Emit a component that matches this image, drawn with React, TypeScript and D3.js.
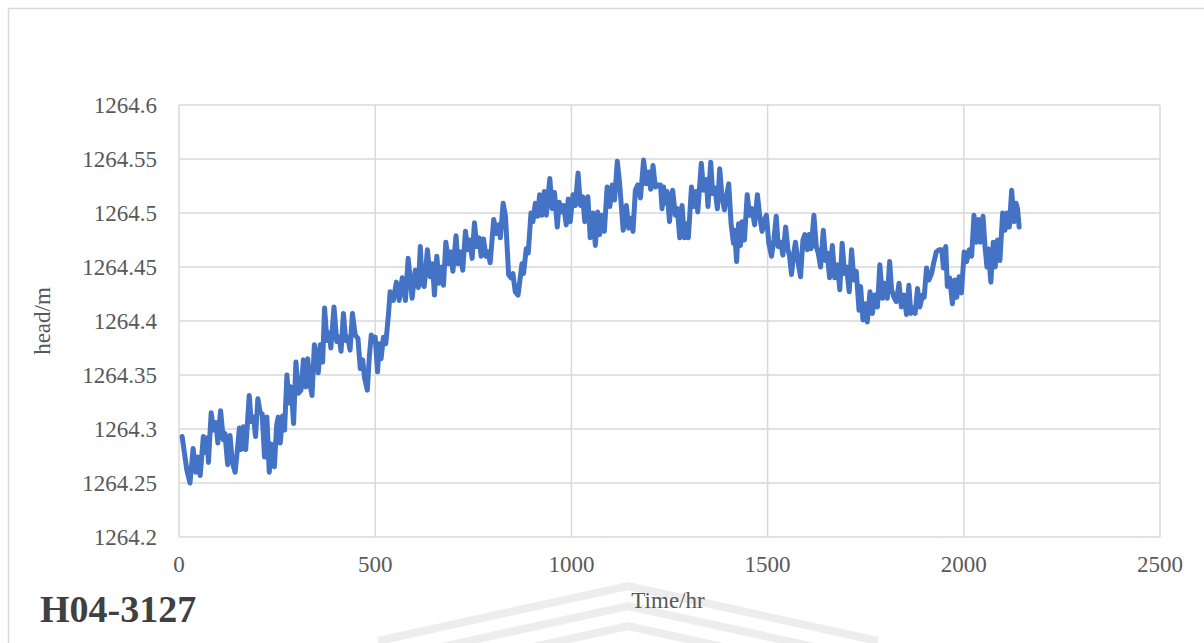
import React from "react";
import * as d3 from "d3";

const hours: number[] = [
  8, 20, 28, 36, 43, 48, 54, 62, 68, 72, 75, 82, 88, 94, 99, 106, 113, 117, 124, 130,
  136, 143, 147, 154, 158, 164, 170, 179, 184, 190, 195, 201, 207, 212, 218, 224, 230, 236, 243, 249,
  253, 258, 264, 269, 275, 281, 286, 292, 298, 304, 311, 317, 323, 328, 334, 339, 345, 351, 355, 360,
  366, 371, 377, 383, 387, 395, 402, 408, 413, 419, 425, 430, 436, 442, 449, 456, 462, 468, 473, 480,
  485, 490, 496, 500, 506, 510, 515, 521, 527, 534, 538, 546, 554, 561, 569, 577, 584, 594, 602, 610,
  615, 619, 625, 633, 640, 646, 651, 657, 663, 670, 674, 680, 687, 693, 698, 706, 711, 717, 723, 730,
  736, 741, 747, 753, 759, 765, 770, 776, 782, 787, 793, 802, 809, 815, 819, 826, 832, 840, 846, 851,
  857, 864, 870, 874, 878, 885, 890, 897, 902, 908, 914, 919, 925, 931, 936, 945, 951, 957, 964, 969,
  976, 980, 987, 992, 997, 1004, 1010, 1017, 1023, 1029, 1034, 1042, 1048, 1055, 1061, 1067, 1072, 1078, 1084, 1091,
  1098, 1104, 1110, 1117, 1123, 1132, 1140, 1146, 1152, 1157, 1163, 1169, 1176, 1184, 1191, 1197, 1202, 1208, 1214, 1220,
  1227, 1231, 1235, 1240, 1244, 1250, 1255, 1258, 1265, 1270, 1276, 1282, 1288, 1293, 1298, 1306, 1312, 1318, 1322, 1331,
  1337, 1344, 1348, 1355, 1360, 1366, 1372, 1378, 1384, 1390, 1395, 1401, 1407, 1413, 1416, 1421, 1426, 1431, 1435, 1441,
  1448, 1454, 1460, 1467, 1474, 1480, 1486, 1492, 1497, 1503, 1510, 1516, 1522, 1527, 1533, 1539, 1546, 1552, 1556, 1561,
  1566, 1571, 1577, 1584, 1590, 1595, 1601, 1606, 1611, 1618, 1624, 1629, 1635, 1642, 1648, 1652, 1658, 1665, 1671, 1678,
  1684, 1690, 1696, 1701, 1708, 1714, 1720, 1726, 1733, 1737, 1743, 1749, 1754, 1761, 1767, 1773, 1780, 1786, 1793, 1798,
  1805, 1811, 1816, 1822, 1828, 1835, 1841, 1848, 1854, 1860, 1865, 1871, 1876, 1882, 1888, 1895, 1899, 1905, 1911, 1918,
  1924, 1930, 1937, 1944, 1948, 1954, 1958, 1964, 1971, 1977, 1982, 1988, 1994, 2001, 2007, 2014, 2020, 2026, 2032, 2038,
  2042, 2049, 2054, 2059, 2062, 2069, 2075, 2080, 2086, 2092, 2099, 2105, 2110, 2116, 2122, 2128, 2133, 2137, 2141,
];

const head: number[] = [
  1264.293, 1264.262, 1264.250, 1264.282, 1264.260, 1264.274, 1264.257, 1264.293, 1264.278, 1264.292, 1264.269, 1264.315, 1264.299, 1264.306, 1264.287, 1264.317, 1264.290, 1264.296, 1264.267, 1264.294,
  1264.269, 1264.260, 1264.274, 1264.301, 1264.281, 1264.302, 1264.281, 1264.331, 1264.307, 1264.311, 1264.293, 1264.328, 1264.315, 1264.314, 1264.274, 1264.311, 1264.260, 1264.286, 1264.265, 1264.304,
  1264.311, 1264.287, 1264.312, 1264.299, 1264.350, 1264.324, 1264.339, 1264.305, 1264.362, 1264.333, 1264.336, 1264.364, 1264.339, 1264.365, 1264.341, 1264.331, 1264.378, 1264.364, 1264.352, 1264.378,
  1264.362, 1264.412, 1264.382, 1264.389, 1264.375, 1264.413, 1264.381, 1264.385, 1264.372, 1264.407, 1264.382, 1264.385, 1264.373, 1264.407, 1264.387, 1264.384, 1264.356, 1264.364, 1264.347, 1264.336,
  1264.367, 1264.387, 1264.381, 1264.385, 1264.353, 1264.379, 1264.365, 1264.385, 1264.379, 1264.407, 1264.427, 1264.419, 1264.436, 1264.419, 1264.440, 1264.419, 1264.458, 1264.421, 1264.447, 1264.431,
  1264.469, 1264.435, 1264.432, 1264.466, 1264.441, 1264.453, 1264.424, 1264.460, 1264.435, 1264.450, 1264.433, 1264.473, 1264.453, 1264.464, 1264.446, 1264.479, 1264.453, 1264.464, 1264.447, 1264.483,
  1264.466, 1264.475, 1264.458, 1264.491, 1264.469, 1264.477, 1264.460, 1264.476, 1264.460, 1264.464, 1264.454, 1264.494, 1264.481, 1264.489, 1264.477, 1264.509, 1264.497, 1264.443, 1264.440, 1264.444,
  1264.427, 1264.424, 1264.441, 1264.453, 1264.444, 1264.467, 1264.463, 1264.500, 1264.492, 1264.509, 1264.497, 1264.517, 1264.498, 1264.520, 1264.498, 1264.532, 1264.504, 1264.519, 1264.487, 1264.510,
  1264.501, 1264.507, 1264.489, 1264.513, 1264.492, 1264.517, 1264.507, 1264.537, 1264.507, 1264.515, 1264.492, 1264.515, 1264.477, 1264.500, 1264.470, 1264.501, 1264.480, 1264.498, 1264.483, 1264.524,
  1264.506, 1264.526, 1264.512, 1264.548, 1264.527, 1264.484, 1264.507, 1264.486, 1264.495, 1264.483, 1264.521, 1264.526, 1264.514, 1264.549, 1264.527, 1264.538, 1264.522, 1264.544, 1264.524, 1264.526,
  1264.526, 1264.504, 1264.524, 1264.509, 1264.520, 1264.492, 1264.512, 1264.521, 1264.498, 1264.504, 1264.477, 1264.507, 1264.477, 1264.490, 1264.477, 1264.524, 1264.506, 1264.520, 1264.501, 1264.546,
  1264.521, 1264.531, 1264.506, 1264.547, 1264.518, 1264.523, 1264.504, 1264.541, 1264.514, 1264.503, 1264.515, 1264.527, 1264.490, 1264.472, 1264.484, 1264.455, 1264.490, 1264.470, 1264.492, 1264.475,
  1264.517, 1264.498, 1264.504, 1264.489, 1264.517, 1264.497, 1264.483, 1264.494, 1264.498, 1264.472, 1264.460, 1264.475, 1264.497, 1264.469, 1264.473, 1264.461, 1264.487, 1264.466, 1264.460, 1264.443,
  1264.461, 1264.473, 1264.456, 1264.441, 1264.475, 1264.480, 1264.466, 1264.480, 1264.467, 1264.498, 1264.469, 1264.463, 1264.450, 1264.484, 1264.456, 1264.463, 1264.440, 1264.470, 1264.440, 1264.452,
  1264.429, 1264.472, 1264.444, 1264.450, 1264.427, 1264.466, 1264.438, 1264.446, 1264.410, 1264.432, 1264.401, 1264.416, 1264.399, 1264.427, 1264.407, 1264.424, 1264.413, 1264.452, 1264.421, 1264.435,
  1264.421, 1264.455, 1264.429, 1264.422, 1264.418, 1264.435, 1264.413, 1264.424, 1264.406, 1264.433, 1264.407, 1264.412, 1264.407, 1264.430, 1264.413, 1264.424, 1264.422, 1264.449, 1264.438, 1264.444,
  1264.455, 1264.464, 1264.466, 1264.466, 1264.449, 1264.469, 1264.432, 1264.440, 1264.416, 1264.438, 1264.422, 1264.441, 1264.426, 1264.464, 1264.455, 1264.466, 1264.460, 1264.498, 1264.473, 1264.494,
  1264.473, 1264.497, 1264.469, 1264.450, 1264.467, 1264.436, 1264.473, 1264.450, 1264.475, 1264.456, 1264.500, 1264.484, 1264.500, 1264.487, 1264.521, 1264.492, 1264.509, 1264.504, 1264.487,
];

const xTicks: number[] = [0, 500, 1000, 1500, 2000, 2500];
const yTicks: number[] = [1264.2, 1264.25, 1264.3, 1264.35, 1264.4, 1264.45, 1264.5, 1264.55, 1264.6];
const yTickLabels: string[] = ["1264.2", "1264.25", "1264.3", "1264.35", "1264.4", "1264.45", "1264.5", "1264.55", "1264.6"];
const chartTitle = "H04-3127";
const xTitle = "Time/hr";
const yTitle = "head/m";

const W = 1204;
const H = 643;
const plot = { left: 179, right: 1160, top: 105, bottom: 537 };
const serif = "'Liberation Serif', 'Times New Roman', 'DejaVu Serif', serif";

export default function App() {
  const x = d3.scaleLinear().domain([0, 2500]).range([plot.left, plot.right]);
  const y = d3.scaleLinear().domain([1264.2, 1264.6]).range([plot.bottom, plot.top]);
  const pts: [number, number][] = hours.map((h, i) => [h, head[i]]);
  const line = d3
    .line<[number, number]>()
    .x((d) => x(d[0]))
    .y((d) => y(d[1]));

  const chevrons = [0, 1, 2];

  return (
    <svg
      width={W}
      height={H}
      viewBox={`0 0 ${W} ${H}`}
      style={{ position: "absolute", left: 0, top: 0, background: "#fff" }}
    >
      <rect x={0} y={0} width={W} height={H} fill="#fff" />
      {/* outer frame */}
      <line x1={8.5} y1={8.5} x2={W} y2={8.5} stroke="#d9d9d9" strokeWidth={1.5} />
      <line x1={8.5} y1={8.5} x2={8.5} y2={H} stroke="#d9d9d9" strokeWidth={1.5} />

      {/* watermark */}
      <g fill="none" stroke="#ededed" strokeWidth={8} strokeLinejoin="miter">
        {chevrons.map((i) => {
          const ax = 628;
          const ay = 586 + i * 20;
          return (
            <polyline
              key={i}
              points={`${ax - 250},${ay + 55} ${ax},${ay} ${ax + 250},${ay + 55}`}
            />
          );
        })}
      </g>

      {/* gridlines */}
      <g stroke="#d9d9d9" strokeWidth={1.5}>
        {yTicks.map((t) => (
          <line key={"h" + t} x1={plot.left} x2={plot.right} y1={y(t)} y2={y(t)} />
        ))}
        {xTicks.map((t) => (
          <line key={"v" + t} x1={x(t)} x2={x(t)} y1={plot.top} y2={plot.bottom} />
        ))}
      </g>

      {/* y tick labels */}
      <g fontFamily={serif} fontSize={23} fill="#595959" textAnchor="end">
        {yTicks.map((t, i) => (
          <text key={"yl" + t} x={157} y={y(t)} dy="0.34em">
            {yTickLabels[i]}
          </text>
        ))}
      </g>
      {/* x tick labels */}
      <g fontFamily={serif} fontSize={23} fill="#595959" textAnchor="middle">
        {xTicks.map((t) => (
          <text key={"xl" + t} x={x(t)} y={572}>
            {t}
          </text>
        ))}
      </g>

      {/* axis titles */}
      <text x={668} y={608} fontFamily={serif} fontSize={23} fill="#595959" textAnchor="middle">
        {xTitle}
      </text>
      <text
        transform={`translate(50,321) rotate(-90)`}
        fontFamily={serif}
        fontSize={23}
        fill="#595959"
        textAnchor="middle"
      >
        {yTitle}
      </text>

      {/* data line */}
      <path
        d={line(pts) || ""}
        fill="none"
        stroke="#4472C4"
        strokeWidth={5}
        strokeLinejoin="round"
        strokeLinecap="round"
      />

      {/* panel label */}
      <text x={40} y={622} fontFamily={serif} fontSize={38} fontWeight="bold" fill="#404040">
        {chartTitle}
      </text>
    </svg>
  );
}
